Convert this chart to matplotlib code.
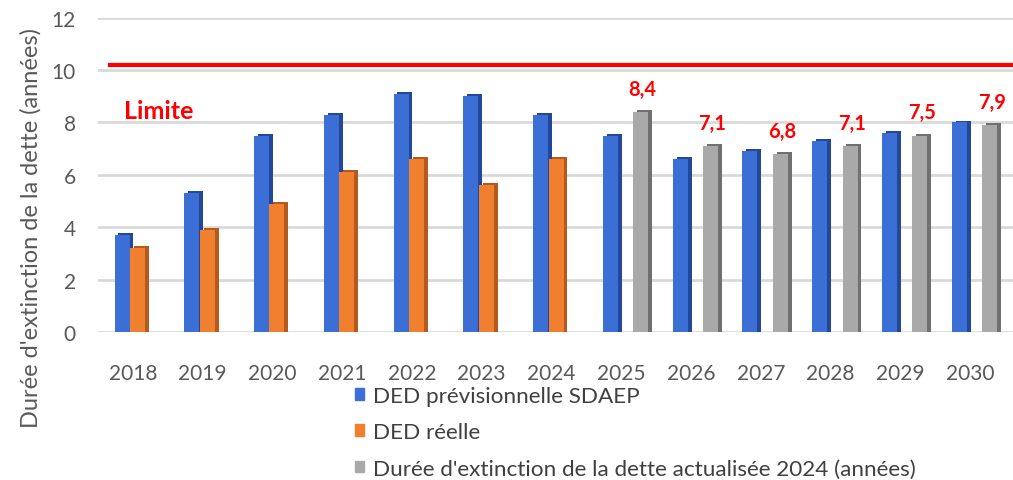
import numpy as np
import matplotlib
matplotlib.use('Agg')
import matplotlib.pyplot as plt
from matplotlib.patches import Patch

# data
annees = ['2018', '2019', '2020', '2021', '2022', '2023', '2024',
          '2025', '2026', '2027', '2028', '2029', '2030']
ded_prev = [3.7, 5.3, 7.5, 8.3, 9.1, 9.0, 8.3, 7.5, 6.6, 6.9, 7.3, 7.6, 8.0]
ded_reelle = [3.2, 3.9, 4.9, 6.1, 6.6, 5.6, 6.6]            # 2018-2024
ded_actu = [8.4, 7.1, 6.8, 7.1, 7.5, 7.9]                    # 2025-2030
limite = 10.2
yticks = [0, 2, 4, 6, 8, 10, 12]

lbl_prev = 'DED prévisionnelle SDAEP'
lbl_reelle = 'DED réelle'
lbl_actu = "Durée d'extinction de la dette actualisée 2024 (années)"

plt.rcParams['font.family'] = ['Lato', 'DejaVu Sans']

c_blue, c_blue_d = '#3b6fd6', '#23489a'
c_orange, c_orange_d = '#f07f2f', '#b35a1c'
c_gray, c_gray_d = '#a9a9a9', '#707070'
txt = '#595959'

fig = plt.figure(figsize=(10.13, 4.81), dpi=100, facecolor='white')
ax = fig.add_axes([98 / 1013, 148 / 481, 915 / 1013, 314.4 / 481])

x = np.arange(len(annees))
w = 0.215
side = 0.055      # fake 3d side face
lift = 0.07

def bars3d(xs, vals, off, col, dark):
    # dark side first, then front face
    ax.bar(xs + off + side, np.array(vals) + lift, width=w, color=dark, zorder=2)
    ax.bar(xs + off, vals, width=w, color=col, zorder=3)

bars3d(x, ded_prev, -0.155, c_blue, c_blue_d)
bars3d(x[:len(ded_reelle)], ded_reelle, 0.065, c_orange, c_orange_d)
x_actu = x[len(annees) - len(ded_actu):]
bars3d(x_actu, ded_actu, 0.28, c_gray, c_gray_d)

# value labels on the 2024 update series
for xi, v in zip(x_actu, ded_actu):
    ax.text(xi + 0.28 + side / 2, v + 0.88, f'{v:.1f}'.replace('.', ','),
            ha='center', va='center', color='#ff0000', fontsize=14.5,
            fontweight='bold', zorder=5)

# limit line
ax.axhline(limite, xmin=0.013, xmax=1, color='#ff0000', lw=3, zorder=4)
ax.text(-0.13, 8.45, 'Limite', color='#ff0000', fontsize=18,
        fontweight='bold', va='center', ha='left', zorder=5)

ax.set_xlim(-0.5, 12.5 + 8 / 69.75)
ax.set_ylim(0, 12)
ax.set_yticks(yticks)
ax.set_xticks(x)
ax.set_xticklabels(annees)
ax.tick_params(axis='both', length=0, labelsize=15, colors=txt)
ax.tick_params(axis='y', pad=16)
ax.tick_params(axis='x', pad=22)
ax.grid(axis='y', color='#d9d9d9', lw=2, zorder=0)
ax.set_axisbelow(True)
for s in ax.spines.values():
    s.set_visible(False)

ax.set_ylabel("Durée d'extinction de la dette (années)", fontsize=17, color=txt)
ax.yaxis.set_label_coords(-0.062, 0.334)

handles = [Patch(color=c_blue), Patch(color=c_orange), Patch(color=c_gray)]
fig.legend(handles, [lbl_prev, lbl_reelle, lbl_actu],
           loc='upper left', bbox_to_anchor=(355 / 1013, 94 / 481),
           frameon=False, fontsize=16.2, labelcolor='#404040',
           handlelength=0.42, handleheight=0.42, handletextpad=0.4,
           labelspacing=0.72, borderpad=0, borderaxespad=0)

fig.savefig('out.png', dpi=100, facecolor='white')
